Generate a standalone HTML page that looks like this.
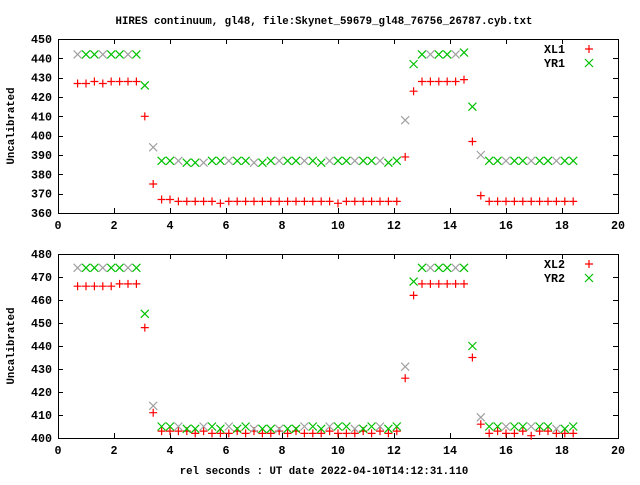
<!DOCTYPE html>
<html><head><meta charset="utf-8"><style>
body{margin:0;background:#fff}
svg text{font-family:"Liberation Mono",monospace;font-weight:bold;font-size:10.7px;fill:#000}
svg text.tk{font-size:11.7px}
</style></head><body>
<svg id="c" width="640" height="480" xmlns="http://www.w3.org/2000/svg">
<text x="324" y="24" text-anchor="middle">HIRES continuum, gl48, file:Skynet_59679_gl48_76756_26787.cyb.txt</text>
<text x="324" y="474" text-anchor="middle">rel seconds : UT date 2022-04-10T14:12:31.110</text>
</svg>
<script>
const xStart = 0.7, xStep = 0.3;
const xl1 = [427,427,428,427,428,428,428,428,410,375,367,367,366,366,366,366,366,365,366,366,366,366,366,366,366,366,366,366,366,366,366,365,366,366,366,366,366,366,366,389,423,428,428,428,428,428,429,397,369,366,366,366,366,366,366,366,366,366,366,366];
const yr1 = [442,442,442,442,442,442,442,442,426,394,387,387,387,386,386,386,387,387,387,387,387,386,386,387,387,387,387,387,387,386,387,387,387,387,387,387,387,386,387,408,437,442,442,442,442,442,443,415,390,387,387,387,387,387,387,387,387,387,387,387];
const xl2 = [466,466,466,466,466,467,467,467,448,411,403,403,403,403,402,403,402,402,402,403,402,403,402,402,403,402,403,402,402,402,403,402,402,402,403,402,403,402,403,426,462,467,467,467,467,467,467,435,406,402,403,402,402,403,401,403,403,402,402,402];
const yr2 = [474,474,474,474,474,474,474,474,454,414,405,405,405,404,404,405,405,404,405,404,405,404,404,404,404,404,404,405,405,404,405,405,405,404,404,405,405,404,405,431,468,474,474,474,474,474,474,440,409,405,405,405,405,405,405,405,405,404,404,405];
const xTicks = [0,2,4,6,8,10,12,14,16,18,20];
const yTicks1 = [360,370,380,390,400,410,420,430,440,450];
const yTicks2 = [400,410,420,430,440,450,460,470,480];
const NS="http://www.w3.org/2000/svg";
const svg=document.getElementById('c');
function mk(tag,attrs,parent){const e=document.createElementNS(NS,tag);for(const k in attrs)e.setAttribute(k,attrs[k]);(parent||svg).appendChild(e);return e;}
function panel(name,top,bot,ymin,ymax,yTicks,s1,s2,lab1,lab2){
  const L=58,R=618;
  const g=mk('g',{});
  
  
  const xs=v=>L+(v-0)/(20-0)*(R-L);
  const ys=v=>bot-(v-ymin)/(ymax-ymin)*(bot-top);
  const fr=mk('rect',{x:L+.5,y:top+.5,width:R-L,height:bot-top,fill:'none',stroke:'#000','stroke-width':1},g);
  
  
  xTicks.forEach(t=>{const x=Math.round(xs(t))+.5;
    mk('line',{x1:x,x2:x,y1:bot,y2:bot-5,stroke:'#000'},g);
    mk('line',{x1:x,x2:x,y1:top,y2:top+5,stroke:'#000'},g);
    const tx=mk('text',{x:xs(t),y:bot+16,'text-anchor':'middle','class':'tk'},g);tx.textContent=t;
    
    
  });
  yTicks.forEach(t=>{const y=Math.round(ys(t))+.5;
    mk('line',{x1:L,x2:L+5,y1:y,y2:y,stroke:'#000'},g);
    mk('line',{x1:R,x2:R-5,y1:y,y2:y,stroke:'#000'},g);
    const tx=mk('text',{x:L-6,y:ys(t)+4,'text-anchor':'end','class':'tk'},g);tx.textContent=t;
    
    
  });
  const yl=mk('text',{x:14,y:(top+bot)/2,'text-anchor':'middle',transform:`rotate(-90 14 ${(top+bot)/2})`},g);
  yl.textContent='Uncalibrated';
  
  
  const plus=(x,y,c,p)=>{mk('path',{d:`M${x-4},${y}h8M${x},${y-4}v8`,stroke:c,'stroke-width':1.2,fill:'none'},p);};
  const cross=(x,y,c,p)=>{mk('path',{d:`M${x-4},${y-4}l8,8M${x-4},${y+4}l8,-8`,stroke:c,'stroke-width':1.2,fill:'none'},p);};
  const gs1=mk('g',{},g);
  
  
  s1.forEach((v,i)=>plus(xs(xStart+i*xStep),ys(v),'#ff0000',gs1));
  const gs2=mk('g',{},g);
  
  
  s2.forEach((v,i)=>cross(xs(xStart+i*xStep),ys(v),i%3==0?'#a0a0a0':'#00c000',gs2));
  const le=mk('g',{},g);
  
  
  const t1=mk('text',{x:565,y:top+14,'text-anchor':'end','class':'tk'},le);t1.textContent=lab1;
  plus(589,top+10,'#ff0000',le);
  const t2=mk('text',{x:565,y:top+28,'text-anchor':'end','class':'tk'},le);t2.textContent=lab2;
  cross(589,top+24,'#00c000',le);
}
panel('top-panel',39,213,360,450,yTicks1,xl1,yr1,'XL1','YR1');
panel('bottom-panel',254,438,400,480,yTicks2,xl2,yr2,'XL2','YR2');
</script>
</body></html>
